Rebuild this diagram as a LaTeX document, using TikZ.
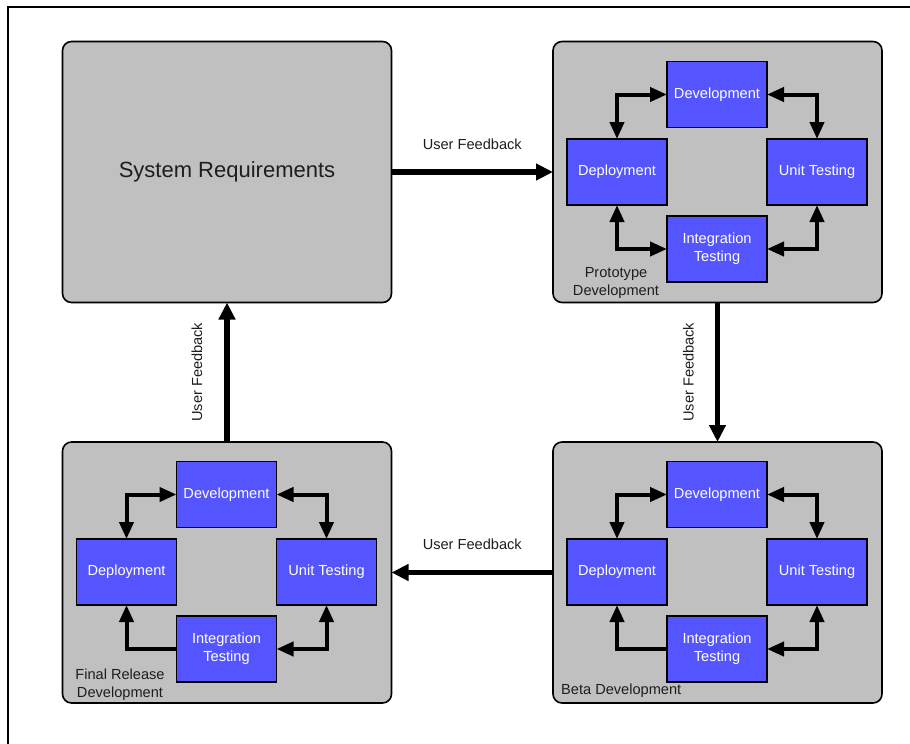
\documentclass[tikz,border=0pt]{standalone}
\usepackage{fontspec}
\setmainfont{Liberation Sans}
\usetikzlibrary{arrows.meta}

\definecolor{panelgray}{RGB}{192,192,192}
\definecolor{stageblue}{RGB}{85,85,255}
\definecolor{labelgray}{RGB}{30,30,30}

\newcommand\labelsize{\fontsize{14.6}{18}\selectfont}
\newcommand\titlesize{\fontsize{22}{26}\selectfont}

\tikzset{
  panel/.style={draw=black, line width=1.6pt, fill=panelgray, rounded corners=9pt,
    minimum width=329pt, minimum height=261pt, inner sep=0pt, outer sep=0pt},
  stage/.style={draw=black, line width=1.5pt, fill=stageblue, text=white,
    minimum width=100pt, minimum height=66pt, inner sep=0pt, outer sep=0pt,
    align=center, font=\labelsize},
  cyc/.style={line width=4pt, >={Triangle[length=17pt,width=14pt]}},
  flow/.style={line width=5.5pt, -{Triangle[length=17pt,width=16pt]}},
  plabel/.style={text=labelgray, font=\labelsize, inner sep=0pt},
  flabel/.style={text=labelgray, font=\labelsize, inner sep=0pt},
}

% one development cycle of four stages inside a panel
% #1 name prefix, #2/#3 panel top-left corner, #4 tips of the lower-left connector
\newcommand\stagecycle[4]{%
  \begin{scope}[shift={(#2,#3)}]
    \node[stage] (#1dev)  at (164,53)    {Development};
    \node[stage] (#1dep)  at (64,130.5)  {Deployment};
    \node[stage] (#1unit) at (264,130.5) {Unit Testing};
    \node[stage] (#1int)  at (164,207.5) {Integration\\Testing};
  \end{scope}
  \draw[cyc,<->] (#1dev.west) -| (#1dep.north);
  \draw[cyc,<->] (#1dev.east) -| (#1unit.north);
  \draw[cyc,<->] (#1int.east) -| (#1unit.south);
  \draw[cyc,#4]  (#1int.west) -| (#1dep.south);
}

\begin{document}
\begin{tikzpicture}[x=1pt, y=-1pt]
  \useasboundingbox (0,0) rectangle (910,744);

  % open page frame
  \coordinate (frameBL) at (8,744);
  \coordinate (frameTL) at (8,7);
  \coordinate (frameTR) at (910,7);
  \draw[line width=1.5pt] (frameBL) -- (frameTL) -- (frameTR);

  % panels
  \node[panel, text=labelgray, font=\titlesize] (sysreq) at (227,172) {System Requirements};
  \node[panel] (proto) at (717.5,172) {};
  \node[panel] (final) at (227,572.5) {};
  \node[panel] (beta)  at (717.5,572.5) {};

  % stage cycles
  \stagecycle{p}{553}{41.5}{<->}
  \stagecycle{f}{62.5}{441.5}{->}
  \stagecycle{b}{553}{441.5}{->}

  % panel captions
  \node[plabel, align=center] (protolabel) at (616,283) {Prototype\\Development};
  \node[plabel, align=center] (finallabel) at (120,685) {Final Release\\Development};
  \node[plabel, anchor=west]  (betalabel)  at (561,691) {Beta Development};

  % feedback flow between panels
  \draw[flow] (sysreq.east) -- (proto.west)
    node[flabel, midway, yshift=28pt] (fb1) {User Feedback};
  \draw[flow] (proto.south) -- (beta.north)
    node[flabel, midway, xshift=-29pt, rotate=90] (fb2) {User Feedback};
  \draw[flow] (beta.west) -- (final.east)
    node[flabel, midway, yshift=28pt] (fb3) {User Feedback};
  \draw[flow] (final.north) -- (sysreq.south)
    node[flabel, midway, xshift=-30pt, rotate=90] (fb4) {User Feedback};
\end{tikzpicture}
\end{document}
